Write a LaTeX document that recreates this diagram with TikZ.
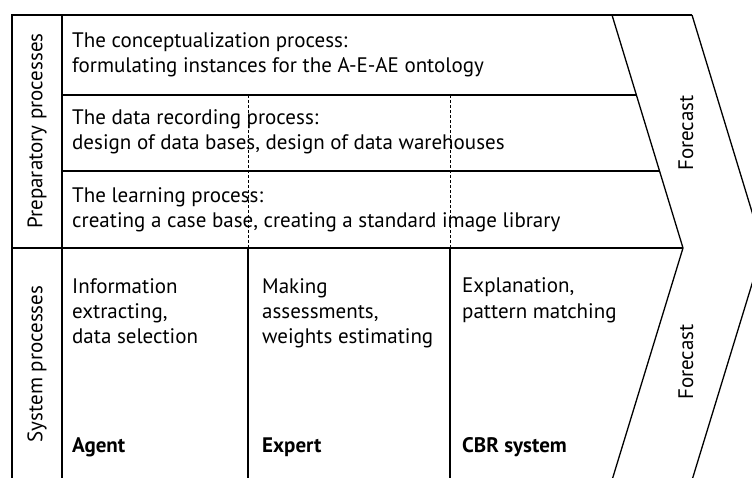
\documentclass[tikz,border=0pt]{standalone}
\usepackage{fontspec}
\setmainfont{PT Sans}
\begin{document}
\begin{tikzpicture}[x=1pt,y=-1pt,
  frame/.style={line width=1.3pt, line join=miter},
  guide/.style={line width=0.9pt, dash pattern=on 3pt off 2pt},
  % multi-line blocks are placed by the baseline of their last line
  body/.style={anchor=base west, inner sep=0pt, align=left,
    font=\fontsize{21}{25}\selectfont},
  role/.style={anchor=base west, inner sep=0pt,
    font=\fontsize{21}{25}\selectfont\bfseries},
  sidelabel/.style={rotate=90, inner sep=0pt,
    font=\fontsize{21}{25}\selectfont}]
\useasboundingbox (0,0) rectangle (752,478);
\clip (0,0) rectangle (752,478);

% outer frame and left label column
\draw[frame] (12,490) -- (12,15) -- (692,15);
\draw[frame] (62,15) -- (62,490);

% row separators of the preparatory block
\draw[frame] (62,95) -- (636,95);
\draw[frame] (62,171) -- (659,171);
\draw[frame] (12,248) -- (683,248);

% the two chevrons of the forecast band
\draw[frame] (612,15) -- (683,248) -- (609,490);
\draw[frame] (692,15) -- (763,248) -- (689,490);

% column dividers of the system block, continued as guides above
\draw[frame] (248,248) -- (248,490);
\draw[frame] (450,248) -- (450,490);
\draw[guide] (248,95) -- (248,248);
\draw[guide] (450,95) -- (450,248);

% side labels
\node[sidelabel] (prep) at (37,131) {Preparatory processes};
\node[sidelabel] (sys) at (37,364) {System processes};
\node[sidelabel] (fc1) at (686,133) {Forecast};
\node[sidelabel] (fc2) at (686,362) {Forecast};

% preparatory processes
\node[body] (concept) at (72,73) {The conceptualization process:\\formulating instances for the A-E-AE ontology};
\node[body] (record) at (72,150) {The data recording process:\\design of data bases, design of data warehouses};
\node[body] (learn) at (72,228) {The learning process:\\creating a case base, creating a standard image library};

% system processes
\node[body] (agenttask) at (72,343) {Information\\extracting,\\data selection};
\node[body] (experttask) at (262,343) {Making\\assessments,\\weights estimating};
\node[body] (cbrtask) at (462,318) {Explanation,\\pattern matching};

\node[role] (agent) at (72,452) {Agent};
\node[role] (expert) at (262,452) {Expert};
\node[role] (cbr) at (462,452) {CBR system};
\end{tikzpicture}
\end{document}
